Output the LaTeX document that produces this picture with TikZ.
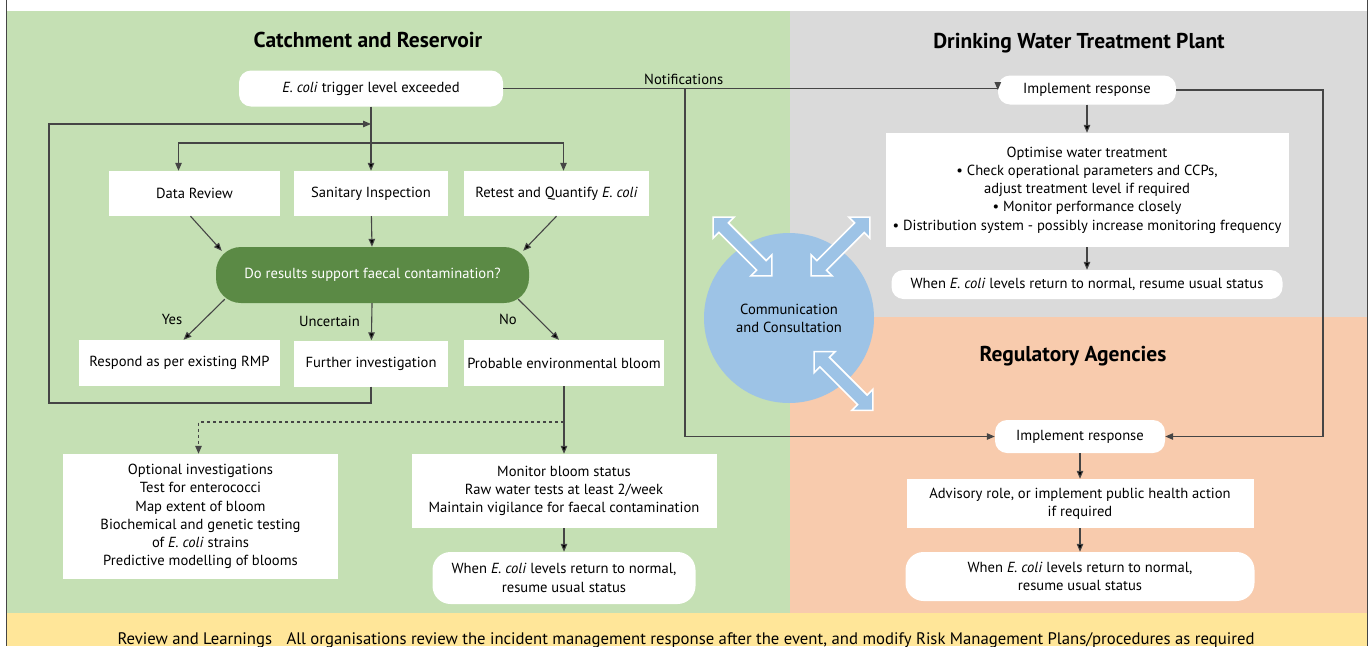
\documentclass[tikz,border=0pt]{standalone}
\usepackage{fontspec}
\setmainfont{PT Sans}
\usetikzlibrary{
    arrows.meta,
    shapes.arrows
}
\definecolor{catchgreen}{HTML}{C5E0B4}
\definecolor{plantgrey}{HTML}{DADADA}
\definecolor{agencypeach}{HTML}{F8CBAD}
\definecolor{reviewyellow}{HTML}{FFE699}
\definecolor{decidegreen}{HTML}{5B8A45}
\definecolor{commblue}{HTML}{9DC3E6}
\definecolor{linegrey}{HTML}{454545}
\newcommand{\flowfont}{\fontsize{14.6}{18.2}\selectfont}
\newcommand{\areafont}{\fontsize{21.5}{24}\selectfont\bfseries}
\newcommand{\reviewfont}{\fontsize{16.7}{18}\selectfont}
\tikzset{
    box/.style={fill=white, inner sep=0pt, align=center, font=\flowfont},
    rbox/.style={box, rounded corners=12pt},
    decide/.style={fill=decidegreen, text=white, rounded corners=25pt, inner sep=0pt, font=\flowfont},
    area/.style={font=\areafont},
    flow/.style={draw=linegrey, line width=1.1pt},
    twoway/.style={double arrow, fill=commblue, draw=white, line width=1.6pt,
        minimum height=83pt, inner sep=6pt, double arrow head extend=8pt,
        double arrow tip angle=90}
}

\begin{document}
\begin{tikzpicture}[x=1pt, y=-1pt, >={Triangle[length=8pt, width=6.5pt]}, font=\flowfont]
                                    \useasboundingbox (0, 0) rectangle (1370, 646);
                                    \fill[white] (0, 0) rectangle (1370, 646);
                                    \fill[catchgreen] (6, 11) rectangle (790, 613);
                                    \fill[plantgrey] (790, 11) rectangle (1367, 317);
                                    \fill[agencypeach] (790, 317) rectangle (1367, 613);
                                    \fill[reviewyellow] (6, 613) rectangle (1367, 646);
                                    \draw[linegrey, line width=1pt] (6, 0) -- (6, 646) (1367, 0) -- (1367, 646);
                                    \node[area] (catchtitle) at (368, 40) {Catchment and Reservoir};
                                    \node[area] (planttitle) at (1079, 43) {Drinking Water Treatment Plant};
                                    \node[area] (agencytitle) at (1073, 356) {Regulatory Agencies};
                                    \begin{scope}
                                        \node[rbox, minimum width=264pt, minimum height=36pt] (trigger) at (371, 88.5) {\textit{E. coli} trigger level exceeded};
                                        \node[box, minimum width=171pt, minimum height=45pt] (datarev) at (194.5, 193.5) {Data Review};
                                        \node[box, minimum width=154pt, minimum height=45pt] (sanitary) at (371, 193.5) {Sanitary Inspection};
                                        \node[box, minimum width=185pt, minimum height=45pt] (retest) at (556.5, 193.5) {Retest and Quantify \textit{E. coli}};
                                        \node[decide, minimum width=313pt, minimum height=56pt] (support) at (372.5, 275) {Do results support faecal contamination?};
                                        \node[box, minimum width=201pt, minimum height=46pt] (respond) at (179.5, 363) {Respond as per existing RMP};
                                        \node[box, minimum width=154pt, minimum height=46pt] (further) at (371, 363.5) {Further investigation};
                                        \node[box, minimum width=200pt, minimum height=46pt] (bloom) at (564, 363) {Probable environmental bloom};
                                        \node[box, minimum width=275pt, minimum height=125pt] (optional) at (200.5, 516.5) {Optional investigations\\Test for enterococci\\Map extent of bloom\\Biochemical and genetic testing\\of \textit{E. coli} strains\\Predictive modelling of blooms};
                                        \node[box, minimum width=305pt, minimum height=74pt] (monitor) at (564, 491) {Monitor bloom status\\Raw water tests at least 2/week\\Maintain vigilance for faecal contamination};
                                        \node[rbox, rounded corners=18pt, minimum width=263pt, minimum height=52pt] (normalcatch) at (564, 578) {When \textit{E. coli} levels return to normal,\\resume usual status};
                                    \end{scope}
                                    \begin{scope}
                                        \node[rbox, minimum width=178pt, minimum height=29pt] (plantresp) at (1087, 90) {Implement response};
                                        \node[box, minimum width=403pt, minimum height=114pt] (optimise) at (1087, 190) {Optimise water treatment\\\textbullet{} Check operational parameters and CCPs,\\adjust treatment level if required\\\textbullet{} Monitor performance closely\\\textbullet{} Distribution system - possibly increase monitoring frequency};
                                        \node[rbox, minimum width=391pt, minimum height=29pt] (normalplant) at (1087, 284.5) {When \textit{E. coli} levels return to normal, resume usual status};
                                        \node[rbox, minimum width=170pt, minimum height=33pt] (agencyresp) at (1080, 436.5) {Implement response};
                                        \node[box, minimum width=347pt, minimum height=49pt] (advisory) at (1080, 503.5) {Advisory role, or implement public health action\\if required};
                                        \node[rbox, rounded corners=18pt, minimum width=349pt, minimum height=49pt] (normalagency) at (1080, 576.5) {When \textit{E. coli} levels return to normal,\\resume usual status};
                                    \end{scope}
                                    \node[circle, fill=commblue, minimum size=170pt, inner sep=0pt, align=center] (comm) at (789, 318) {Communication\\and Consultation};
                                    \node[twoway, rotate=-45] (linkcatch) at (742.5, 246.5) {};
                                    \node[twoway, rotate=45] (linkplant) at (840.5, 246.5) {};
                                    \node[twoway, rotate=-45] (linkagency) at (843.5, 381) {};
                                    \node[font=\reviewfont, anchor=base] (review) at (686, 644) {Review and Learnings\hspace{0.6em} All organisations review the incident management response after the event, and modify Risk Management Plans/procedures as required};
                                    \coordinate (split) at (371, 143);
                                    \coordinate (loopin) at (371, 124);
                                    \coordinate (loopturn) at (49, 403);
                                    \coordinate (bloomfork) at (564, 422);
                                    \coordinate (notifdrop) at (685, 88.5);
                                    \coordinate (rightrail) at (1323, 0);
                                    \draw[flow]
                                    (trigger) edge[->] (sanitary)
                                    ([xshift=-4pt]datarev.south) edge[->] ([xshift=6pt, yshift=-4pt]support.north west)
                                    (sanitary) edge[->] (support)
                                    (retest.south) edge[->] ([xshift=-6pt, yshift=-4pt]support.north east)
                                    ([xshift=9pt, yshift=4pt]support.south west) edge[->] node[midway, left=18pt]{Yes} ([xshift=4pt]respond.north)
                                    (support) edge[->] node[midway, left=8pt]{Uncertain} (further)
                                    ([xshift=-11pt, yshift=4pt]support.south east) edge[->] node[midway, left=18pt]{No} ([xshift=-5pt]bloom.north)
                                    (bloom) edge[->] (monitor)
                                    (monitor) edge[->] (normalcatch)
                                    (plantresp) edge[->] (optimise)
                                    (optimise) edge[->] (normalplant)
                                    (agencyresp) edge[->] (advisory)
                                    (advisory) edge[->] (normalagency);
                                    \draw[flow, ->] (split) -| ([xshift=-16pt]datarev.north);
                                    \draw[flow, ->] (split) -| ([xshift=7pt]retest.north);
                                    \draw[flow] (trigger.east) -- node[above, pos=0.365]{Notifications} (trigger.east -| plantresp.west);
                                    \draw[flow, ->] (trigger.east -| plantresp.west) -- (plantresp.west);
                                    \draw[flow, ->] (further.south) |- (loopturn) |- (loopin);
                                    \draw[flow, ->] (notifdrop) |- (agencyresp.west);
                                    \draw[flow, ->] (plantresp.east) -- (plantresp.east -| rightrail) |- (agencyresp.east);
                                    \draw[flow, dashed, ->] (bloomfork) -| ([xshift=-2pt]optional.north);
                                \end{tikzpicture}
\end{document}
